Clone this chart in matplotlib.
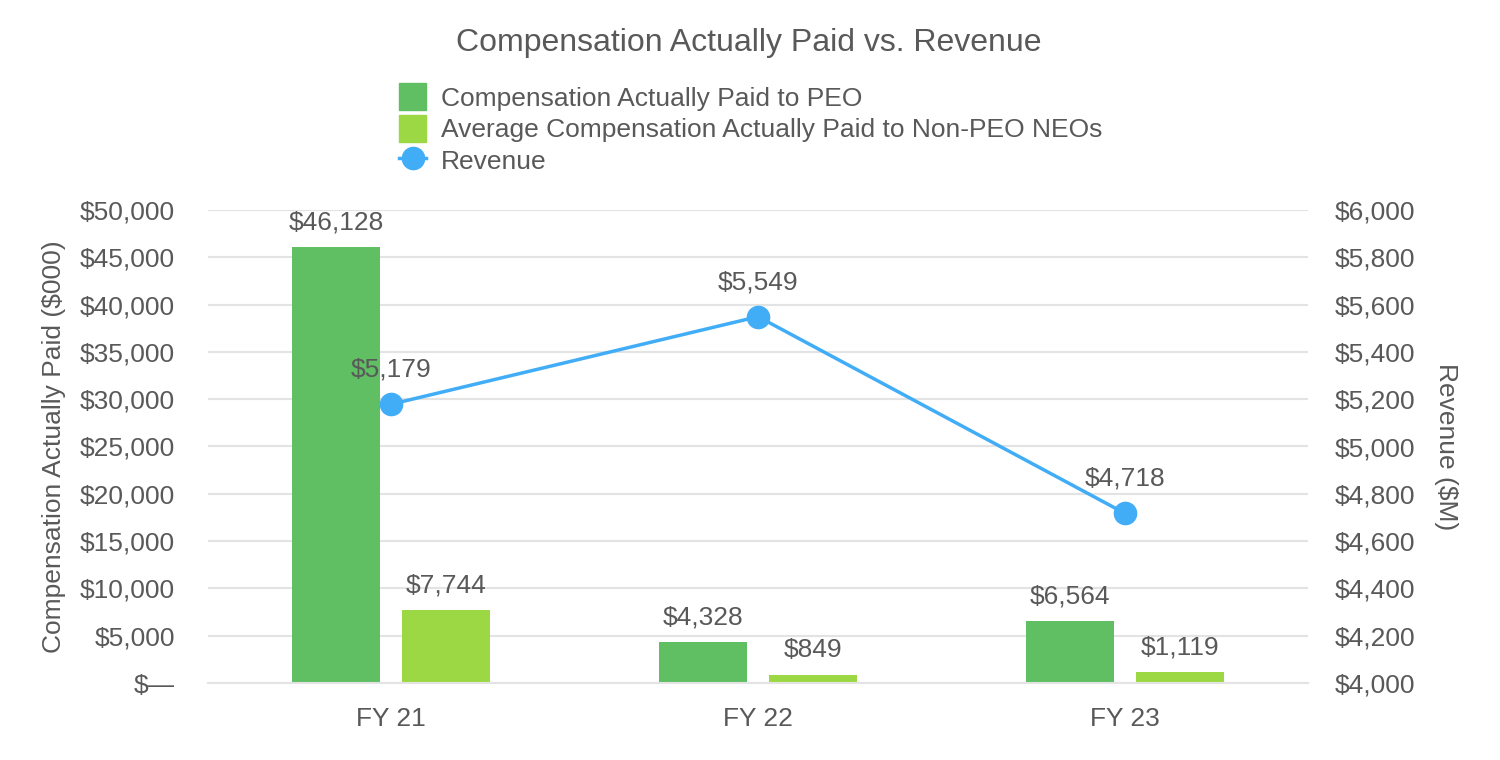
import matplotlib
matplotlib.use("Agg")
import matplotlib.pyplot as plt
from matplotlib.ticker import FuncFormatter
from matplotlib.lines import Line2D
from matplotlib.patches import Patch
import numpy as np

categories = ["FY 21", "FY 22", "FY 23"]
peo_cap = [46128, 4328, 6564]
neo_cap = [7744, 849, 1119]
revenue = [5179, 5549, 4718]

plt.rcParams['font.family'] = ['Liberation Sans', 'DejaVu Sans']
TXT = '#595959'
C_PEO = '#5FBF62'
C_NEO = '#9CD843'
C_REV = '#42ADF7'
GRID = '#E3E3E3'
FS = 19

fig = plt.figure(figsize=(15, 7.6), dpi=100)
ax = fig.add_axes([0.1387, 0.1013, 0.872 - 0.1387, 0.7237 - 0.1013])
ax2 = ax.twinx()

x = np.arange(len(categories))
w = 0.24
off = 0.15
ax.bar(x - off, peo_cap, width=w, color=C_PEO, zorder=2)
ax.bar(x + off, neo_cap, width=w, color=C_NEO, zorder=2)

for xi, v in zip(x, peo_cap):
    ax.annotate(f"${v:,}", (xi - off, v), xytext=(0, 9), textcoords='offset points',
                ha='center', va='bottom', fontsize=FS, color=TXT)
for xi, v in zip(x, neo_cap):
    ax.annotate(f"${v:,}", (xi + off, v), xytext=(0, 9), textcoords='offset points',
                ha='center', va='bottom', fontsize=FS, color=TXT)

ax.set_xlim(-0.5, 2.5)
ax.set_ylim(0, 50000)
ax.set_yticks(np.arange(0, 50001, 5000))
ax.yaxis.set_major_formatter(FuncFormatter(lambda v, p: "$\u2014" if v == 0 else f"${v:,.0f}"))
ax.set_xticks(x)
ax.set_xticklabels(categories)
ax.grid(axis='y', color=GRID, linewidth=1.5, zorder=0)
ax.set_axisbelow(True)
for s in ['top', 'left', 'right']:
    ax.spines[s].set_visible(False)
ax.spines['bottom'].set_color(GRID)
ax.spines['bottom'].set_linewidth(1.5)
ax.tick_params(axis='both', length=0, labelsize=FS, colors=TXT)
ax.tick_params(axis='x', pad=17)
ax.tick_params(axis='y', pad=24)
ax.set_ylabel("Compensation Actually Paid ($000)", fontsize=FS, color=TXT, labelpad=10)

ax2.plot(x, revenue, color=C_REV, linewidth=2.5, marker='o', markersize=16, zorder=3)
for xi, v in zip(x, revenue):
    ax2.annotate(f"${v:,}", (xi, v), xytext=(0, 16), textcoords='offset points',
                 ha='center', va='bottom', fontsize=FS, color=TXT)
ax2.set_ylim(4000, 6000)
ax2.set_yticks(np.arange(4000, 6001, 200))
ax2.yaxis.set_major_formatter(FuncFormatter(lambda v, p: f"${v:,.0f}"))
for s in ['top', 'left', 'right', 'bottom']:
    ax2.spines[s].set_visible(False)
ax2.tick_params(axis='y', length=0, labelsize=FS, colors=TXT, pad=19)
ax2.set_ylabel("Revenue ($M)", fontsize=FS, color=TXT, rotation=270, labelpad=31)

fig.text(0.499, 0.943, "Compensation Actually Paid vs. Revenue", ha='center', va='center',
         fontsize=23, color=TXT)

handles = [Patch(color=C_PEO), Patch(color=C_NEO),
           Line2D([0], [0], color=C_REV, linewidth=2.5, marker='o', markersize=16)]
labels = ["Compensation Actually Paid to PEO",
          "Average Compensation Actually Paid to Non-PEO NEOs", "Revenue"]
leg = fig.legend(handles, labels, loc='upper left', bbox_to_anchor=(0.257, 0.908),
                 frameon=False, fontsize=FS, labelcolor=TXT, handlelength=1.05,
                 handleheight=1.2, handletextpad=0.55, labelspacing=0.17, borderpad=0)

fig.savefig("out.png", dpi=100, facecolor='white')
